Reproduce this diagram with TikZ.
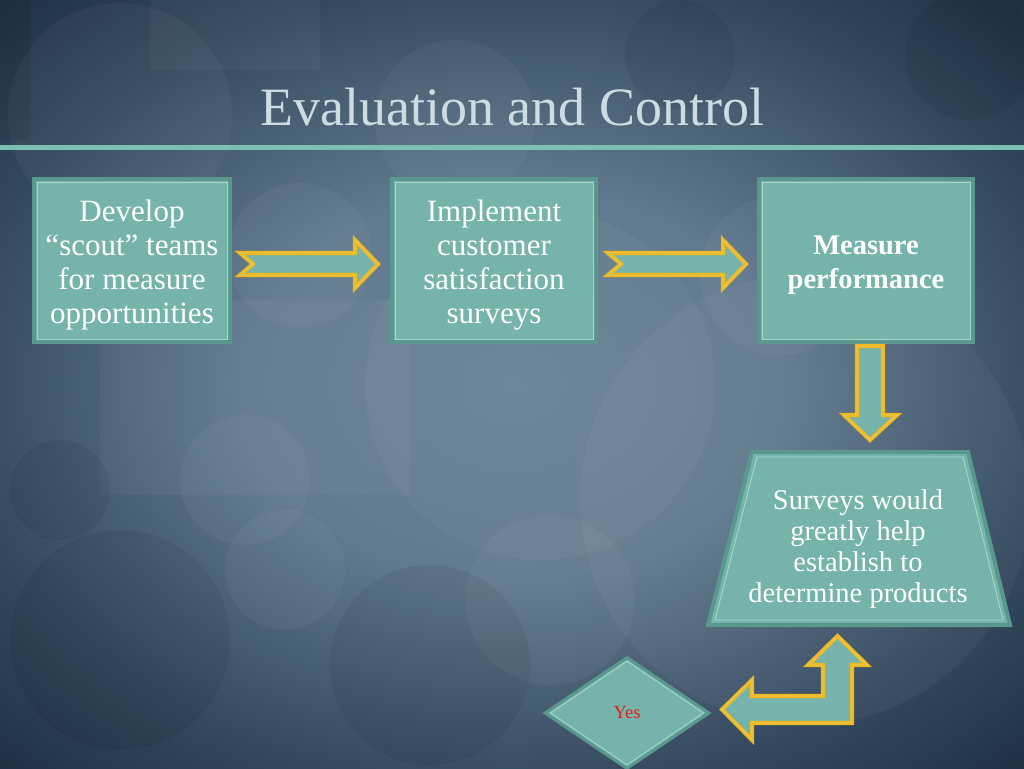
\documentclass[tikz,border=0pt]{standalone}
\usepackage{fontspec}
\setmainfont{Liberation Serif}
\usetikzlibrary{shapes.geometric}
\definecolor{tealfill}{HTML}{76B4AB}
\definecolor{tealedge}{HTML}{5A988F}
\definecolor{teallight}{HTML}{A8D6CC}
\definecolor{gold}{HTML}{F4B81A}
\definecolor{goldlight}{HTML}{D9C96A}
\definecolor{bgdark}{HTML}{18283B}
\definecolor{bgmid}{HTML}{34495E}
\definecolor{bglight}{HTML}{6A8296}
\definecolor{titlecol}{HTML}{CBDDE3}
\definecolor{rulecol}{HTML}{7CC0B2}
\definecolor{yesred}{HTML}{E0201E}
\pgfdeclareradialshading{bgshade}{\pgfpoint{0bp}{0bp}}{color(0bp)=(bglight); color(12bp)=(bglight!85!bgmid); color(25bp)=(bgmid); color(36bp)=(bgdark); color(50bp)=(bgdark)}
\tikzset{
  box/.style={rectangle, fill=tealfill, draw=tealedge, line width=4pt, minimum height=163pt, inner sep=0pt},
  boxtext/.style={text=white, align=center, inner sep=0pt, font=\fontsize{31}{34}\selectfont},
  inner line/.style={draw=teallight, line width=0.9pt},
  blockarrow/.style={fill=tealfill, draw=gold, line width=1.6pt, double=goldlight, double distance=0.9pt, line join=miter},
  lighter/.style={fill=white, opacity=0.035},
  darker/.style={fill=black, opacity=0.06}
}
\begin{document}
\begin{tikzpicture}[x=1pt,y=-1pt]
\useasboundingbox (0,0) rectangle (1024,768);
% background
\shade[shading=bgshade] (-40,-20) rectangle (1064,788);
\fill[lighter] (120,115) circle (112);
\fill[lighter] (455,120) circle (80);
\fill[lighter] (300,255) circle (72);
\fill[lighter] (540,385) circle (175);
\fill[lighter] (245,480) circle (65);
\fill[darker] (60,490) circle (50);
\fill[lighter] (285,570) circle (60);
\fill[darker] (120,640) circle (110);
\fill[darker] (430,665) circle (100);
\fill[lighter] (550,600) circle (85);
\fill[lighter] (805,500) circle (225);
\fill[darker] (680,55) circle (55);
\fill[darker] (970,55) circle (65);
\fill[lighter] (780,275) circle (80);
\fill[lighter] (150,0) rectangle (320,70);
\fill[lighter] (100,300) rectangle (410,495);
\fill[darker] (0,0) rectangle (30,140);
% title
\node[text=titlecol, font=\fontsize{54}{60}\selectfont] (title) at (512,107) {Evaluation and Control};
\fill[rulecol] (0,145) rectangle (1024,150);
% boxes
\node[box, minimum width=196pt] (b1) at (132,260.5) {};
\node[box, minimum width=204pt] (b2) at (494,260.5) {};
\node[box, minimum width=214pt] (b3) at (866,260.5) {};
\foreach \n in {b1,b2,b3}{
  \draw[inner line] ([shift={(5,5)}]\n.north west) rectangle ([shift={(-5,-5)}]\n.south east);
}
\node[boxtext] (b1t) at ([yshift=-5pt]b1.center) {Develop\\“scout” teams\\for measure\\opportunities};
\node[boxtext] (b2t) at ([yshift=-5pt]b2.center) {Implement\\customer\\satisfaction\\surveys};
\node[boxtext, font=\fontsize{28.5}{34}\selectfont\bfseries] (b3t) at ([yshift=-5pt]b3.center) {Measure\\performance};
% trapezoid
\draw[fill=tealfill, draw=tealedge, line width=4pt, line join=miter] (752,452) -- (968,452) -- (1010,625) -- (708,625) -- cycle;
\draw[inner line] (757,457) -- (963,457) -- (1003,620) -- (715,620) -- cycle;
\node[text=white, align=center, font=\fontsize{28.5}{31}\selectfont] (t) at (858,549) {Surveys would\\greatly help\\establish to\\determine products};
% diamond
\node[diamond, fill=tealfill, draw=tealedge, line width=3pt, minimum width=165pt, minimum height=112pt, inner sep=0pt] (yes) at (627,713) {};
\node[diamond, draw=teallight, line width=0.8pt, minimum width=153pt, minimum height=104pt, inner sep=0pt] (yesin) at (627,713) {};
\node[text=yesred, font=\fontsize{18.5}{21}\selectfont] (yestext) at (627,713) {Yes};
% block arrows
\draw[blockarrow] (240,253) -- (355,253) -- (355,240) -- (378,264) -- (355,288) -- (355,275) -- (240,275) -- (253,264) -- cycle;
\draw[blockarrow] (608,253) -- (723,253) -- (723,240) -- (746,264) -- (723,288) -- (723,275) -- (608,275) -- (621,264) -- cycle;
\draw[blockarrow] (857,346) -- (883,346) -- (883,415) -- (897,415) -- (870,440) -- (844,415) -- (857,415) -- cycle;
\draw[blockarrow] (837.5,636) -- (867,665) -- (852,665) -- (852,723) -- (752,723) -- (752,740) -- (722,709.5) -- (752,680) -- (752,696) -- (823,696) -- (823,665) -- (808,665) -- cycle;
\end{tikzpicture}
\end{document}
